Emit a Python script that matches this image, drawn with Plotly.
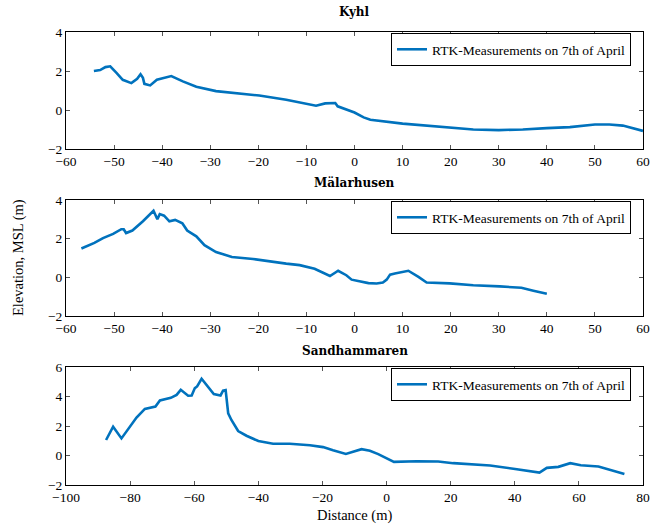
import plotly.graph_objects as go

# ---- data ----
kyhl_x = [-54.2, -52.9, -51.8, -50.8, -49.5, -48.2, -46.4, -45.2, -44.5, -44.0, -43.7, -42.5, -41.1,
          -38.1, -35.7, -32.9, -28.8, -23.2, -19.8, -14.2, -10.0, -8.0, -6.1, -4.0, -3.5, -1.7, 0.0,
          1.9, 3.3, 10.0, 20.0, 24.7, 30.0, 35.0, 40.0, 44.8, 50.0, 53.0, 55.8, 58.0, 60.0]
kyhl_y = [2.0, 2.05, 2.2, 2.24, 1.9, 1.55, 1.38, 1.6, 1.83, 1.65, 1.34, 1.26, 1.55,
          1.74, 1.47, 1.19, 0.97, 0.84, 0.74, 0.53, 0.31, 0.22, 0.34, 0.36, 0.19, 0.02, -0.13,
          -0.38, -0.5, -0.7, -0.93, -1.0, -1.03, -1.0, -0.93, -0.88, -0.74, -0.74, -0.8, -0.95, -1.07]

malar_x = [-56.8, -54.1, -52.3, -50.2, -48.5, -48.0, -47.5, -46.2, -44.0, -41.8, -41.0, -40.5, -39.6,
           -38.5, -37.3, -35.8, -34.8, -32.9, -31.2, -28.8, -25.5, -21.1, -14.2, -11.4, -8.3, -6.6,
           -5.1, -3.4, -1.7, -0.6, 1.2, 2.9, 4.6, 5.9, 6.7, 7.4, 8.4, 11.2, 13.3, 15.0, 19.8, 24.7,
           30.2, 32.3, 34.7, 37.2, 40.0]
malar_y = [1.49, 1.78, 2.03, 2.25, 2.49, 2.49, 2.29, 2.42, 2.9, 3.44, 3.0, 3.27, 3.19,
           2.9, 2.97, 2.8, 2.42, 2.12, 1.66, 1.31, 1.05, 0.95, 0.71, 0.63, 0.44, 0.25,
           0.07, 0.34, 0.11, -0.12, -0.22, -0.3, -0.32, -0.27, -0.12, 0.14, 0.2, 0.34, 0.02, -0.27, -0.31, -0.41,
           -0.47, -0.49, -0.54, -0.69, -0.85]

sand_x = [-87.5, -85.3, -82.7, -80.1, -78.0, -75.4, -72.1, -70.7, -67.3, -65.5, -64.2, -61.9, -60.8,
          -59.8, -59.1, -57.7, -56.2, -53.9, -51.8, -51.0, -50.2, -49.4, -48.4, -46.3, -43.7, -40.0,
          -35.4, -30.2, -23.9, -19.8, -16.7, -12.7, -7.8, -5.2, -2.6, 0.0, 2.3, 9.4, 16.1, 20.8,
          27.1, 32.3, 40.1, 47.7, 50.0, 53.6, 57.3, 60.6, 66.1, 74.2]
sand_y = [1.05, 1.95, 1.16, 1.95, 2.57, 3.16, 3.32, 3.73, 3.91, 4.11, 4.45, 4.05, 4.07,
          4.57, 4.68, 5.2, 4.8, 4.16, 4.07, 4.39, 4.43, 2.86, 2.41, 1.66, 1.34, 0.98,
          0.8, 0.8, 0.7, 0.57, 0.36, 0.11, 0.43, 0.32, 0.09, -0.16, -0.43, -0.39, -0.41, -0.52,
          -0.59, -0.68, -0.91, -1.16, -0.84, -0.77, -0.52, -0.66, -0.75, -1.25]

titles = ["Kyhl", "Mälarhusen", "Sandhammaren"]
series_name = "RTK-Measurements on 7th of April"
x_title = "Distance (m)"
y_title = "Elevation, MSL (m)"

# ---- styling ----
FONT = "Liberation Serif"
BOLD_FONT = "DejaVu Serif"
BLUE = "#0072BD"
W, H = 655, 526
ML, MR, MT, MB = 66, 12, 32, 41
PH = H - MT - MB
PW = W - ML - MR


def py(pix):
    return (H - MB - pix) / PH


fig = go.Figure()
data = [(kyhl_x, kyhl_y), (malar_x, malar_y), (sand_x, sand_y)]
domains = [(py(149), py(32)), (py(316), py(200)), (py(485), py(367))]
xranges = [[-60, 60], [-60, 60], [-100, 80]]
xdt = [10, 10, 20]
yranges = [[-2, 4], [-2, 4], [-2, 6]]
legend_tops = [py(33), py(201), py(368)]
title_y = [py(12), py(183), py(351)]

for i, (xs, ys) in enumerate(data):
    n = "" if i == 0 else str(i + 1)
    lg = "legend" + n
    fig.add_trace(go.Scatter(x=xs, y=ys, mode="lines", name=series_name,
                             line=dict(color=BLUE, width=2.6),
                             xaxis="x" + n, yaxis="y" + n, legend=lg, showlegend=True))
    ax = dict(range=xranges[i], dtick=xdt[i], tick0=0, showgrid=False, zeroline=False,
              showline=True, linecolor="black", linewidth=1, mirror="ticks",
              ticks="inside", ticklen=4, tickcolor="#555", anchor="y" + n, automargin=False,
              tickfont=dict(family=FONT, size=13.5, color="black"))
    ay = dict(range=yranges[i], dtick=2, showgrid=False, zeroline=False,
              showline=True, linecolor="black", linewidth=1, mirror="ticks",
              ticks="inside", ticklen=4, tickcolor="#555", anchor="x" + n, automargin=False,
              domain=list(domains[i]),
              tickfont=dict(family=FONT, size=13.5, color="black"))
    fig.layout["xaxis" + n] = ax
    fig.layout["yaxis" + n] = ay
    fig.layout[lg] = dict(x=(631 - ML) / PW, xanchor="right", y=legend_tops[i], yanchor="top",
                          bgcolor="white", bordercolor="black", borderwidth=1,
                          font=dict(family=FONT, size=13.5, color="black"),
                          tracegroupgap=0, itemwidth=30)
    fig.add_annotation(text="<b>" + titles[i] + "</b>", x=0.5, y=title_y[i], xref="paper", yref="paper",
                       showarrow=False, font=dict(family=BOLD_FONT, size=12, color="black"),
                       xanchor="center", yanchor="middle")

fig.add_annotation(text=x_title, x=0.5, y=py(515), xref="paper", yref="paper", showarrow=False,
                   font=dict(family=FONT, size=14.5, color="black"), xanchor="center", yanchor="middle")
fig.add_annotation(text=y_title, x=(18 - ML) / PW, y=py(258), xref="paper", yref="paper",
                   showarrow=False, textangle=-90,
                   font=dict(family=FONT, size=14.5, color="black"), xanchor="center", yanchor="middle")

fig.update_layout(width=W, height=H, margin=dict(l=ML, r=MR, t=MT, b=MB),
                  paper_bgcolor="white", plot_bgcolor="white",
                  font=dict(family=FONT, color="black"))

fig.write_html("out.html")
